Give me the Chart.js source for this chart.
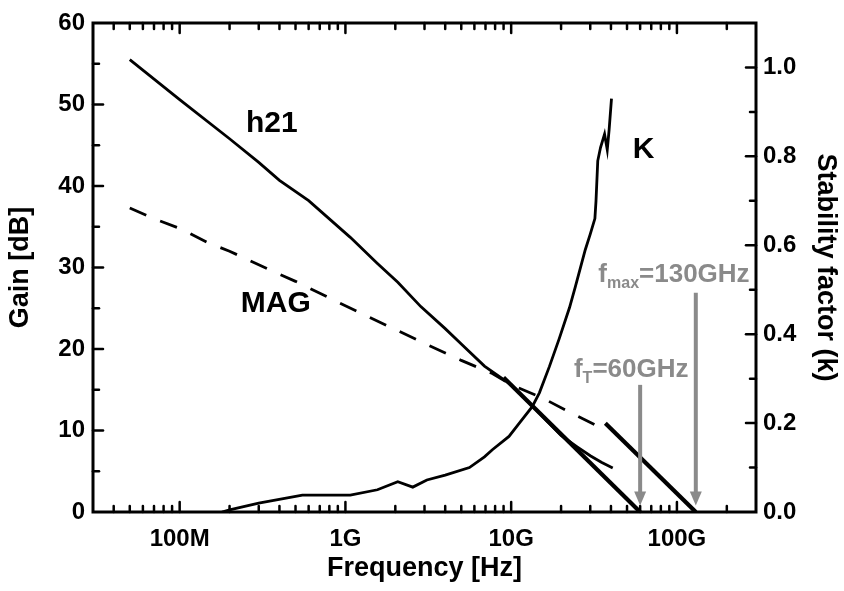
<!DOCTYPE html>
<html>
<head>
<meta charset="utf-8">
<script src="https://cdn.jsdelivr.net/npm/chart.js@4.4.0/dist/chart.umd.min.js"></script>
<style>
  html, body { margin: 0; padding: 0; background: #fff; }
  #wrap { width: 844px; height: 591px; }
</style>
</head>
<body>
<div id="wrap"><canvas id="gainChart" width="844" height="591"></canvas></div>
<script>
// frequencies in Hz
const h21Freq = [5e7, 1e8, 2e8, 3e8, 4e8, 6e8, 1.07e9, 1.56e9, 2.07e9, 2.85e9, 4e9, 5e9, 6.9e9, 1e10, 1.34e10, 2e10, 2.5e10, 3e10, 3.5e10, 4.1e10];
const h21Gain = [55.5, 50.6, 45.8, 42.9, 40.7, 38.2, 33.7, 30.5, 28.2, 25.2, 22.5, 20.6, 17.9, 15.6, 13.0, 9.4, 8.0, 6.9, 6.1, 5.4];

const magFreq = [5e7, 7e7, 1e8, 1.46e8, 2e8, 3.5e8, 5e8, 8.5e8, 1.5e9, 2.85e9, 5e9, 7.7e9, 1e10, 1.54e10, 2.44e10, 3.5e10];
const magGain = [37.3, 36.0, 34.8, 33.1, 32.0, 29.7, 28.3, 26.0, 23.6, 20.9, 18.6, 17.0, 15.6, 14.0, 11.9, 10.3];

const kFreq = [1.8e8, 2e8, 3e8, 5.5e8, 1.07e9, 1.56e9, 2.07e9, 2.55e9, 3.1e9, 4e9, 5.6e9, 6.9e9, 7.7e9, 9.7e9, 1.12e10, 1.34e10, 1.48e10, 1.7e10, 1.95e10, 2.25e10, 2.44e10, 2.8e10, 3e10, 3.2e10, 3.25e10, 3.33e10, 3.46e10, 3.66e10, 3.8e10, 3.9e10, 4.03e10];
const kValue = [0, 0.005, 0.02, 0.038, 0.038, 0.05, 0.068, 0.056, 0.072, 0.083, 0.10, 0.124, 0.14, 0.17, 0.20, 0.237, 0.268, 0.327, 0.39, 0.46, 0.507, 0.59, 0.625, 0.66, 0.70, 0.79, 0.82, 0.85, 0.815, 0.86, 0.93];

// -20 dB/dec extrapolations
const ftLineFreq = [9e9, 6e10];
const ftLineGain = [16.5, 0];
const fmaxLineFreq = [3.7e10, 1.3e11];
const fmaxLineGain = [10.9, 0];

const xTickValues = [1e8, 1e9, 1e10, 1e11];
const xTickLabels = ["100M", "1G", "10G", "100G"];
const gainTicks = [0, 10, 20, 30, 40, 50, 60];
const kTicks = [0, 0.2, 0.4, 0.6, 0.8, 1.0];

const FONT = "'Liberation Sans', Arial, sans-serif";
const GREY = "#8a8a8a";

const toXY = (xs, ys) => xs.map((x, i) => ({ x: x, y: ys[i] }));

const frameTicks = {
  id: "frameTicks",
  afterDatasetsDraw(c) {
    const { ctx, chartArea: a, scales } = c;
    const seg = (x1, y1, x2, y2) => {
      ctx.beginPath();
      ctx.moveTo(x1, y1);
      ctx.lineTo(x2, y2);
      ctx.stroke();
    };
    ctx.save();
    ctx.strokeStyle = "#000";
    ctx.lineWidth = 2.5;
    ctx.lineCap = "round";

    // log ticks on bottom and top
    const x = scales.x;
    for (let d = 7; d <= 11; d++) {
      for (let m = 1; m <= 9; m++) {
        const v = m * Math.pow(10, d);
        if (v <= x.min || v >= x.max) continue;
        const px = x.getPixelForValue(v);
        const len = m === 1 ? 10 : 6;
        seg(px, a.bottom, px, a.bottom - len);
        seg(px, a.top, px, a.top + len);
      }
    }

    // gain ticks, left
    const y = scales.y;
    for (let v = 5; v < 60; v += 5) {
      const py = y.getPixelForValue(v);
      seg(a.left, py, a.left + (v % 10 === 0 ? 10 : 6), py);
    }

    // k ticks, right
    const y1 = scales.y1;
    for (let i = 1; i <= 10; i++) {
      const py = y1.getPixelForValue(i / 10);
      seg(a.right, py, a.right - (i % 2 === 0 ? 10 : 6), py);
    }

    ctx.lineCap = "butt";
    ctx.lineWidth = 3;
    ctx.strokeRect(a.left, a.top, a.width, a.height);

    // f_T and f_max arrows
    const arrow = (f, fromDb, toDb) => {
      const px = x.getPixelForValue(f);
      const top = y.getPixelForValue(fromDb);
      const tip = y.getPixelForValue(toDb);
      ctx.strokeStyle = GREY;
      ctx.fillStyle = GREY;
      ctx.lineWidth = 4;
      seg(px, top, px, tip - 12);
      ctx.beginPath();
      ctx.moveTo(px - 6, tip - 14);
      ctx.lineTo(px + 6, tip - 14);
      ctx.lineTo(px, tip);
      ctx.closePath();
      ctx.fill();
    };
    arrow(6e10, 15.6, 0.8);
    arrow(1.3e11, 26.9, 0.8);

    // curve labels
    ctx.fillStyle = "#000";
    ctx.textAlign = "center";
    ctx.textBaseline = "middle";
    ctx.font = "bold 30px " + FONT;
    ctx.fillText("h21", x.getPixelForValue(3.6e8), y.getPixelForValue(47.7));
    ctx.fillText("MAG", x.getPixelForValue(3.8e8), y.getPixelForValue(25.6));
    ctx.fillText("K", x.getPixelForValue(6.3e10), y.getPixelForValue(44.4));

    // subscripted grey labels
    const subLabel = (base, sub, rest, f, db) => {
      const big = "bold 26px " + FONT, small = "bold 16px " + FONT;
      ctx.font = big;
      const w1 = ctx.measureText(base).width, w3 = ctx.measureText(rest).width;
      ctx.font = small;
      const w2 = ctx.measureText(sub).width;
      let px = x.getPixelForValue(f) - (w1 + w2 + w3) / 2;
      const py = y.getPixelForValue(db);
      ctx.fillStyle = GREY;
      ctx.textAlign = "left";
      ctx.textBaseline = "alphabetic";
      ctx.font = big;
      ctx.fillText(base, px, py + 9);
      ctx.font = small;
      ctx.fillText(sub, px + w1, py + 15);
      ctx.font = big;
      ctx.fillText(rest, px + w1 + w2, py + 9);
    };
    subLabel("f", "T", "=60GHz", 5.3e10, 17.7);
    subLabel("f", "max", "=130GHz", 9.6e10, 29.3);

    ctx.restore();
  },
};

new Chart(document.getElementById("gainChart"), {
  type: "line",
  data: {
    datasets: [
      { data: toXY(h21Freq, h21Gain), yAxisID: "y", borderColor: "#000", borderWidth: 2.8 },
      { data: toXY(magFreq, magGain), yAxisID: "y", borderColor: "#000", borderWidth: 2.8, borderDash: [18, 15] },
      { data: toXY(kFreq, kValue), yAxisID: "y1", borderColor: "#000", borderWidth: 2.8 },
      { data: toXY(ftLineFreq, ftLineGain), yAxisID: "y", borderColor: "#000", borderWidth: 4.2 },
      { data: toXY(fmaxLineFreq, fmaxLineGain), yAxisID: "y", borderColor: "#000", borderWidth: 4.2 },
    ],
  },
  options: {
    responsive: false,
    animation: false,
    layout: { padding: { top: 23, left: 0, right: 0, bottom: 0 } },
    elements: { point: { radius: 0 }, line: { tension: 0 } },
    scales: {
      x: {
        type: "logarithmic",
        min: 3e7,
        max: 3e11,
        grid: { display: false, drawTicks: false },
        border: { display: false },
        afterBuildTicks: (s) => { s.ticks = xTickValues.map((v) => ({ value: v })); },
        afterFit: (s) => { s.height = 79; },
        ticks: {
          autoSkip: false,
          maxRotation: 0,
          padding: 13,
          color: "#000",
          font: { family: FONT, size: 24, weight: "bold" },
          callback: (v) => xTickLabels[xTickValues.indexOf(v)],
        },
        title: {
          display: true,
          text: "Frequency [Hz]",
          color: "#000",
          font: { family: FONT, size: 27, weight: "bold" },
          padding: { top: 0, bottom: 6 },
        },
      },
      y: {
        position: "left",
        min: 0,
        max: 60,
        grid: { display: false, drawTicks: false },
        border: { display: false },
        afterBuildTicks: (s) => { s.ticks = gainTicks.map((v) => ({ value: v })); },
        afterFit: (s) => { s.width = 93; },
        ticks: {
          padding: 8,
          color: "#000",
          font: { family: FONT, size: 24, weight: "bold" },
        },
        title: {
          display: true,
          text: "Gain [dB]",
          color: "#000",
          font: { family: FONT, size: 27, weight: "bold" },
          padding: { top: 4, bottom: 0 },
        },
      },
      y1: {
        position: "right",
        min: 0,
        max: 1.1,
        grid: { display: false, drawTicks: false },
        border: { display: false },
        afterBuildTicks: (s) => { s.ticks = kTicks.map((v) => ({ value: v })); },
        afterFit: (s) => { s.width = 88; },
        ticks: {
          padding: 7,
          color: "#000",
          font: { family: FONT, size: 24, weight: "bold" },
          callback: (v) => v.toFixed(1),
        },
        title: {
          display: true,
          text: "Stability factor (k)",
          color: "#000",
          font: { family: FONT, size: 27, weight: "bold" },
          padding: { top: 2, bottom: 0 },
        },
      },
    },
    plugins: {
      legend: { display: false },
      tooltip: { enabled: false },
    },
  },
  plugins: [frameTicks],
});
</script>
</body>
</html>
